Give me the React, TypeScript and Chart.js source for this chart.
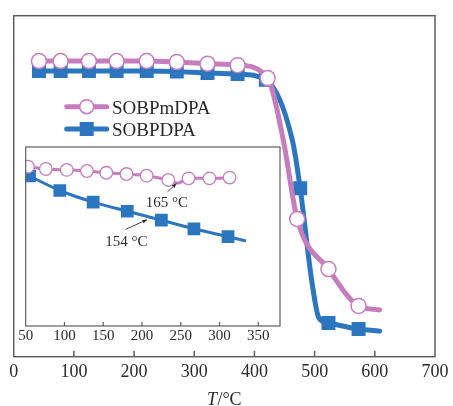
import React, { useEffect, useRef } from "react";
import { Chart, registerables } from "chart.js";

Chart.register(...registerables);

// ---------- data ----------
const seriesNames = ["SOBPmDPA", "SOBPDPA"];

// main chart (T / °C vs. relative mass, arbitrary 0–100 scale)
const mainXTicks = [0, 100, 200, 300, 400, 500, 600, 700];
const pinkMarkX = [42, 78, 125, 171, 221, 271, 322, 372, 422, 471, 523, 573];
const pinkMarkY = [86.7, 86.7, 86.7, 86.7, 86.7, 86.4, 85.9, 85.5, 81.7, 40.4, 25.7, 14.9];
const pinkTraceX = [448, 608];
const pinkTraceY = [63.5, 13.7];

const blueMarkX = [42, 78, 125, 171, 221, 271, 322, 372, 419, 476, 523, 573];
const blueMarkY = [83.8, 83.8, 83.8, 83.8, 83.8, 83.6, 83.2, 82.9, 81.2, 49.4, 9.9, 8.1];
const blueTraceX = [463, 495, 507, 608];
const blueTraceY = [63.5, 22.5, 11.4, 7.5];

// inset chart
const insetXTicks = [50, 100, 150, 200, 250, 300, 350];
const insetPinkX = [53, 76, 103, 129, 154, 180, 206, 234, 260, 287, 313];
const insetPinkY = [89.0, 87.7, 87.2, 86.6, 85.6, 84.9, 84.0, 81.6, 82.5, 82.5, 82.9];
const insetPinkTraceX = [246];
const insetPinkTraceY = [79.8];
const insetBlueX = [55, 94, 137, 181, 225, 267, 311];
const insetBlueY = [83.8, 75.7, 69.2, 64.1, 59.1, 54.3, 49.9];
const insetBlueTraceX = [334];
const insetBlueTraceY = [47.5];

const insetNotes = ["165 °C", "154 °C"];
const insetNoteX = [232, 180];
const insetNoteY = [68.5, 47];
const insetArrowFromX = [233, 179];
const insetArrowFromY = [75, 54];
const insetArrowToX = [244.5, 206.5];
const insetArrowToY = [79.6, 59.4];

const axisTitleItalic = "T";
const axisTitleRest = "/°C";

// ---------- styling ----------
const PINK = "#c57dbd";
const BLUE = "#2c76c0";
const FRAME = "#5e5e5e";
const TEXT = "#2a2a2a";
const SERIF = '"Liberation Serif", "Times New Roman", serif';

const pts = (xs: number[], ys: number[]) => xs.map((x, i) => ({ x, y: ys[i] }));
const merged = (xs: number[], ys: number[], xs2: number[], ys2: number[]) =>
  [...pts(xs, ys), ...pts(xs2, ys2)].sort((a, b) => a.x - b.x);

const framePlugin = (tickLen: number, width: number) => ({
  id: "frame" + tickLen,
  beforeDraw(chart: any) {
    const { ctx, chartArea: a } = chart;
    ctx.save();
    ctx.fillStyle = "#ffffff";
    ctx.fillRect(a.left, a.top, a.right - a.left, a.bottom - a.top);
    ctx.restore();
  },
  afterDraw(chart: any) {
    const { ctx, chartArea: a } = chart;
    const xs = chart.scales.x;
    ctx.save();
    ctx.strokeStyle = FRAME;
    ctx.lineWidth = width;
    ctx.strokeRect(a.left, a.top, a.right - a.left, a.bottom - a.top);
    ctx.beginPath();
    xs.ticks.forEach((t: any) => {
      const p = xs.getPixelForValue(t.value);
      if (p - a.left < 2 || a.right - p < 2) return;
      ctx.moveTo(p, a.bottom);
      ctx.lineTo(p, a.bottom - tickLen);
    });
    ctx.stroke();
    ctx.restore();
  },
});

const legendPlugin = {
  id: "customLegend",
  afterDraw(chart: any) {
    const { ctx } = chart;
    ctx.save();
    const x0 = 66.7, x1 = 106.7, xm = 86.7;
    // pink row
    let y = 106.7;
    ctx.strokeStyle = PINK;
    ctx.lineWidth = 5;
    ctx.lineCap = "round";
    ctx.beginPath();
    ctx.moveTo(x0, y);
    ctx.lineTo(x1, y);
    ctx.stroke();
    ctx.beginPath();
    ctx.arc(xm, y, 7, 0, Math.PI * 2);
    ctx.fillStyle = "#fff";
    ctx.fill();
    ctx.lineWidth = 1.5;
    ctx.stroke();
    // blue row
    y = 129;
    ctx.strokeStyle = BLUE;
    ctx.lineWidth = 5;
    ctx.beginPath();
    ctx.moveTo(x0, y);
    ctx.lineTo(x1, y);
    ctx.stroke();
    ctx.fillStyle = BLUE;
    ctx.fillRect(xm - 7, y - 7, 14, 14);
    // text
    ctx.fillStyle = TEXT;
    ctx.font = "19px " + SERIF;
    ctx.textAlign = "left";
    ctx.textBaseline = "alphabetic";
    ctx.fillText(seriesNames[0], 112, 114);
    ctx.fillText(seriesNames[1], 112, 135.5);
    ctx.restore();
  },
};

const titlePlugin = {
  id: "axisTitle",
  afterDraw(chart: any) {
    const { ctx } = chart;
    ctx.save();
    ctx.fillStyle = TEXT;
    ctx.textBaseline = "alphabetic";
    ctx.textAlign = "left";
    const fItalic = "italic 18px " + SERIF;
    const fNormal = "18px " + SERIF;
    ctx.font = fItalic;
    const w1 = ctx.measureText(axisTitleItalic).width;
    ctx.font = fNormal;
    const w2 = ctx.measureText(axisTitleRest).width;
    const cx = 224;
    const start = cx - (w1 + w2) / 2;
    ctx.font = fItalic;
    ctx.fillText(axisTitleItalic, start, 405);
    ctx.font = fNormal;
    ctx.fillText(axisTitleRest, start + w1 + 0.5, 405);
    ctx.restore();
  },
};

const notesPlugin = {
  id: "insetNotes",
  afterDraw(chart: any) {
    const { ctx } = chart;
    const xs = chart.scales.x, ys = chart.scales.y;
    ctx.save();
    ctx.fillStyle = TEXT;
    ctx.font = "15px " + SERIF;
    ctx.textAlign = "center";
    ctx.textBaseline = "middle";
    insetNotes.forEach((t, i) => {
      ctx.fillStyle = TEXT;
      ctx.fillText(t, xs.getPixelForValue(insetNoteX[i]), ys.getPixelForValue(insetNoteY[i]));
      const fx = xs.getPixelForValue(insetArrowFromX[i]);
      const fy = ys.getPixelForValue(insetArrowFromY[i]);
      const tx = xs.getPixelForValue(insetArrowToX[i]);
      const ty = ys.getPixelForValue(insetArrowToY[i]);
      ctx.strokeStyle = "#333";
      ctx.lineWidth = 0.9;
      ctx.beginPath();
      ctx.moveTo(fx, fy);
      ctx.lineTo(tx, ty);
      ctx.stroke();
      const ang = Math.atan2(ty - fy, tx - fx);
      const L = 4.5, W = 1.8;
      ctx.fillStyle = "#222";
      ctx.beginPath();
      ctx.moveTo(tx, ty);
      ctx.lineTo(tx - L * Math.cos(ang) + W * Math.sin(ang), ty - L * Math.sin(ang) - W * Math.cos(ang));
      ctx.lineTo(tx - L * Math.cos(ang) - W * Math.sin(ang), ty - L * Math.sin(ang) + W * Math.cos(ang));
      ctx.closePath();
      ctx.fill();
    });
    ctx.restore();
  },
};

export default function App() {
  const mainRef = useRef<HTMLCanvasElement | null>(null);
  const insetRef = useRef<HTMLCanvasElement | null>(null);

  useEffect(() => {
    if (!mainRef.current || !insetRef.current) return;

    const main = new Chart(mainRef.current, {
      type: "line",
      data: {
        datasets: [
          {
            label: seriesNames[0],
            data: pts(pinkMarkX, pinkMarkY),
            showLine: false,
            pointStyle: "circle",
            pointRadius: 7.5,
            pointBackgroundColor: "#ffffff",
            pointBorderColor: PINK,
            pointBorderWidth: 1.5,
          },
          {
            label: seriesNames[0] + " line",
            data: merged(pinkMarkX, pinkMarkY, pinkTraceX, pinkTraceY),
            borderColor: PINK,
            borderWidth: 5,
            pointRadius: 0,
            cubicInterpolationMode: "monotone",
            tension: 0.4,
            borderCapStyle: "round",
            fill: false,
          },
          {
            label: seriesNames[1],
            data: pts(blueMarkX, blueMarkY),
            showLine: false,
            pointStyle: "rect",
            pointRadius: 9.9,
            pointBackgroundColor: BLUE,
            pointBorderColor: BLUE,
            pointBorderWidth: 0,
          },
          {
            label: seriesNames[1] + " line",
            data: merged(blueMarkX, blueMarkY, blueTraceX, blueTraceY),
            borderColor: BLUE,
            borderWidth: 5,
            pointRadius: 0,
            cubicInterpolationMode: "monotone",
            tension: 0.4,
            borderCapStyle: "round",
            fill: false,
          },
        ] as any,
      },
      options: {
        responsive: false,
        maintainAspectRatio: false,
        animation: false,
        events: [],
        layout: { padding: { left: 13.7, right: 16.3, top: 15.7, bottom: 18.7 } },
        plugins: { legend: { display: false }, tooltip: { enabled: false } },
        scales: {
          x: {
            type: "linear",
            min: 0,
            max: 700,
            grid: { display: false, drawTicks: false },
            border: { display: false },
            afterBuildTicks: (s: any) => {
              s.ticks = mainXTicks.map((v) => ({ value: v }));
            },
            ticks: {
              color: TEXT,
              font: { family: SERIF, size: 18 },
              padding: 4.5,
              maxRotation: 0,
              autoSkip: false,
            },
          },
          y: { type: "linear", display: false, min: 0, max: 100 },
        },
      } as any,
      plugins: [framePlugin(6, 1.5), legendPlugin, titlePlugin],
    });

    const inset = new Chart(insetRef.current, {
      type: "line",
      data: {
        datasets: [
          {
            label: seriesNames[0],
            data: pts(insetPinkX, insetPinkY),
            showLine: false,
            pointStyle: "circle",
            pointRadius: 6.3,
            pointBackgroundColor: "#ffffff",
            pointBorderColor: PINK,
            pointBorderWidth: 1.3,
            clip: 0,
          },
          {
            label: seriesNames[0] + " line",
            data: merged(insetPinkX, insetPinkY, insetPinkTraceX, insetPinkTraceY),
            borderColor: PINK,
            borderWidth: 3,
            pointRadius: 0,
            cubicInterpolationMode: "monotone",
            tension: 0.4,
            fill: false,
            clip: 0,
          },
          {
            label: seriesNames[1],
            data: pts(insetBlueX, insetBlueY),
            showLine: false,
            pointStyle: "rect",
            pointRadius: 9,
            pointBackgroundColor: BLUE,
            pointBorderColor: BLUE,
            pointBorderWidth: 0,
            clip: 0,
          },
          {
            label: seriesNames[1] + " line",
            data: merged(insetBlueX, insetBlueY, insetBlueTraceX, insetBlueTraceY),
            borderColor: BLUE,
            borderWidth: 3,
            pointRadius: 0,
            cubicInterpolationMode: "monotone",
            tension: 0.4,
            fill: false,
            clip: 0,
          },
        ] as any,
      },
      options: {
        responsive: false,
        maintainAspectRatio: false,
        animation: false,
        events: [],
        layout: { padding: { left: 9.7, right: 16, top: 7, bottom: 4 } },
        plugins: { legend: { display: false }, tooltip: { enabled: false } },
        scales: {
          x: {
            type: "linear",
            min: 50,
            max: 378,
            grid: { display: false, drawTicks: false },
            border: { display: false },
            afterBuildTicks: (s: any) => {
              s.ticks = insetXTicks.map((v) => ({ value: v }));
            },
            ticks: {
              color: TEXT,
              font: { family: SERIF, size: 15 },
              padding: 1,
              maxRotation: 0,
              autoSkip: false,
            },
          },
          y: { type: "linear", display: false, min: 0, max: 100 },
        },
      } as any,
      plugins: [framePlugin(4, 1.2), notesPlugin],
    });

    return () => {
      main.destroy();
      inset.destroy();
    };
  }, []);

  return (
    <div style={{ position: "fixed", left: 0, top: 0, width: 453, height: 406, background: "#fff" }}>
      <canvas
        ref={mainRef}
        width={453}
        height={406}
        style={{ position: "absolute", left: 0, top: 0, width: 453, height: 406 }}
      />
      <canvas
        ref={insetRef}
        width={280}
        height={212}
        style={{ position: "absolute", left: 16, top: 138, width: 280, height: 212 }}
      />
    </div>
  );
}
